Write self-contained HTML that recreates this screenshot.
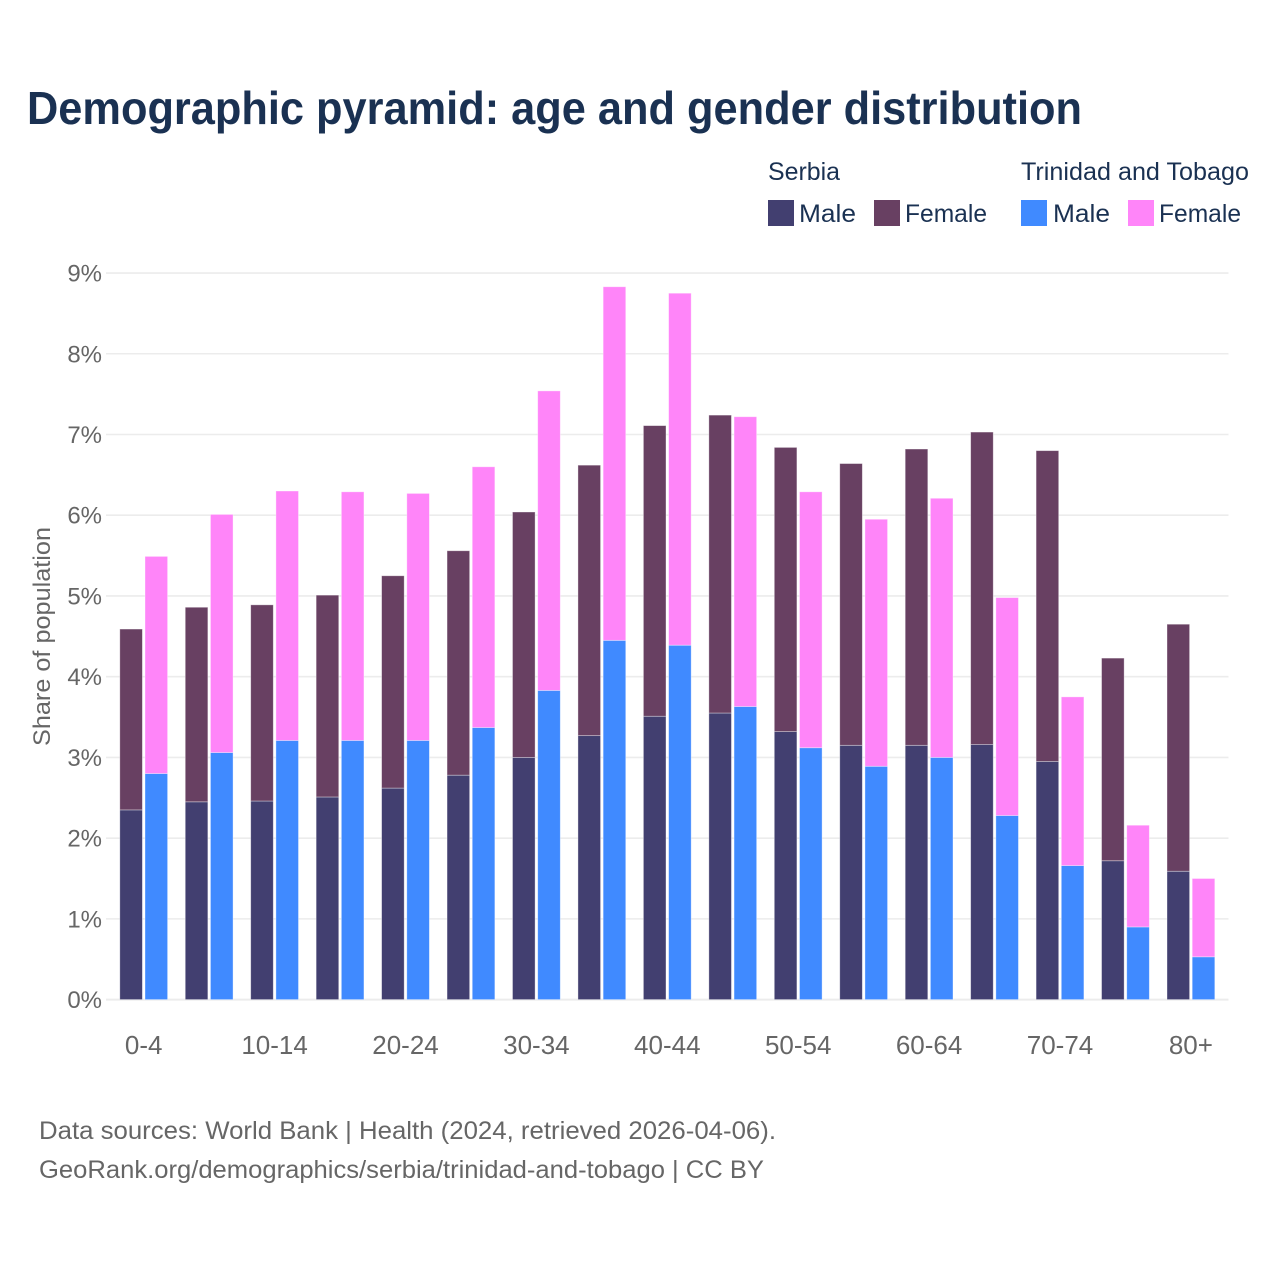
<!DOCTYPE html>
<html lang="en">
<head>
<meta charset="utf-8">
<title>Demographic pyramid: age and gender distribution</title>
<style>
html,body{margin:0;padding:0;background:#fff;}
svg{display:block;font-family:"Liberation Sans",Arial,sans-serif;}
</style>
</head>
<body>
<svg id="chart" width="1280" height="1280" viewBox="0 0 1280 1280" xmlns="http://www.w3.org/2000/svg">
  <rect width="1280" height="1280" fill="#ffffff"/>
  <text x="27" y="124" font-size="46" font-weight="700" fill="#1a3152" textLength="1055" lengthAdjust="spacingAndGlyphs">Demographic pyramid: age and gender distribution</text>

  <g id="grid"></g>
  <g id="bars"></g>
  <g id="yticks"></g>
  <g id="xticks"></g>

  <text transform="translate(50,636.5) rotate(-90)" text-anchor="middle" font-size="24" fill="#666666" textLength="219" lengthAdjust="spacingAndGlyphs">Share of population</text>

  <g>
    <text x="768" y="180" font-size="25" fill="#1a3152" textLength="72" lengthAdjust="spacingAndGlyphs">Serbia</text>
    <text x="1021" y="180" font-size="25" fill="#1a3152" textLength="228" lengthAdjust="spacingAndGlyphs">Trinidad and Tobago</text>
    <rect x="768" y="200" width="26" height="26" fill="#423f70"/>
    <text x="799" y="222" font-size="25" fill="#1a3152" textLength="57" lengthAdjust="spacingAndGlyphs">Male</text>
    <rect x="874" y="200" width="26" height="26" fill="#684062"/>
    <text x="905" y="222" font-size="25" fill="#1a3152" textLength="82" lengthAdjust="spacingAndGlyphs">Female</text>
    <rect x="1021" y="200" width="26" height="26" fill="#408aff"/>
    <text x="1053" y="222" font-size="25" fill="#1a3152" textLength="57" lengthAdjust="spacingAndGlyphs">Male</text>
    <rect x="1128" y="200" width="26" height="26" fill="#ff85f9"/>
    <text x="1159" y="222" font-size="25" fill="#1a3152" textLength="82" lengthAdjust="spacingAndGlyphs">Female</text>
  </g>

  <text x="39" y="1139" font-size="25" fill="#666666" textLength="737" lengthAdjust="spacingAndGlyphs">Data sources: World Bank | Health (2024, retrieved 2026-04-06).</text>
  <text x="39" y="1178" font-size="25" fill="#666666" textLength="725" lengthAdjust="spacingAndGlyphs">GeoRank.org/demographics/serbia/trinidad-and-tobago | CC BY</text>
</svg>

<script>
const categories = ["0-4","5-9","10-14","15-19","20-24","25-29","30-34","35-39","40-44","45-49","50-54","55-59","60-64","65-69","70-74","75-79","80+"];
const serbiaMale = [2.35,2.45,2.46,2.51,2.62,2.78,3.00,3.27,3.51,3.55,3.32,3.15,3.15,3.16,2.95,1.72,1.59];
const serbiaFemale = [2.24,2.41,2.43,2.50,2.63,2.78,3.04,3.35,3.60,3.69,3.52,3.49,3.67,3.87,3.85,2.51,3.06];
const ttMale = [2.80,3.06,3.21,3.21,3.21,3.37,3.83,4.45,4.39,3.63,3.12,2.89,3.00,2.28,1.66,0.90,0.53];
const ttFemale = [2.69,2.95,3.09,3.08,3.06,3.23,3.71,4.38,4.36,3.59,3.17,3.06,3.21,2.70,2.09,1.26,0.97];
const yTicks = [0,1,2,3,4,5,6,7,8,9];

const NS = "http://www.w3.org/2000/svg";
const PLOT_BOTTOM = 999.6;
const UNIT = 80.73;
const FIRST_CENTER = 143.7;
const STEP = 65.45;
const BAR_W = 22.6;
const BAR_GAP = 2.6;

function yScale(v) { return PLOT_BOTTOM - v * UNIT; }
function xScale(i) { return FIRST_CENTER + i * STEP; }

const gridG = document.getElementById("grid");
const barsG = document.getElementById("bars");
const yG = document.getElementById("yticks");
const xG = document.getElementById("xticks");

yTicks.forEach(function (t) {
  const line = document.createElementNS(NS, "line");
  
  
  line.setAttribute("x1", 106);
  line.setAttribute("x2", 1228.5);
  line.setAttribute("y1", yScale(t));
  line.setAttribute("y2", yScale(t));
  line.setAttribute("stroke", "#ececec");
  line.setAttribute("stroke-width", t === 0 ? 2 : 1.6);
  gridG.appendChild(line);

  const label = document.createElementNS(NS, "text");
  
  
  label.setAttribute("x", 102);
  label.setAttribute("y", yScale(t) + 8.5);
  label.setAttribute("text-anchor", "end");
  label.setAttribute("font-size", "24");
  label.setAttribute("fill", "#666666");
  label.textContent = t + "%";
  yG.appendChild(label);
});

function addSegment(x, base, value, fill, name) {
  const r = document.createElementNS(NS, "rect");
  
  
  r.setAttribute("x", x);
  r.setAttribute("y", yScale(base + value));
  r.setAttribute("width", BAR_W);
  r.setAttribute("height", yScale(base) - yScale(base + value));
  r.setAttribute("fill", fill);
  r.setAttribute("stroke", "rgba(255,255,255,0.45)");
  r.setAttribute("stroke-width", "0.8");
  barsG.appendChild(r);
}

categories.forEach(function (c, i) {
  const cx = xScale(i);
  const xLeft = cx - BAR_GAP / 2 - BAR_W;
  const xRight = cx + BAR_GAP / 2;
  addSegment(xLeft, 0, serbiaMale[i], "#423f70", "bar-serbia-male");
  addSegment(xLeft, serbiaMale[i], serbiaFemale[i], "#684062", "bar-serbia-female");
  addSegment(xRight, 0, ttMale[i], "#408aff", "bar-tt-male");
  addSegment(xRight, ttMale[i], ttFemale[i], "#ff85f9", "bar-tt-female");

  if (i % 2 === 0) {
    const label = document.createElementNS(NS, "text");
    
    
    label.setAttribute("x", cx);
    label.setAttribute("y", 1054);
    label.setAttribute("text-anchor", "middle");
    label.setAttribute("font-size", "26");
    label.setAttribute("fill", "#666666");
    label.textContent = c;
    xG.appendChild(label);
  }
});
</script>
</body>
</html>
